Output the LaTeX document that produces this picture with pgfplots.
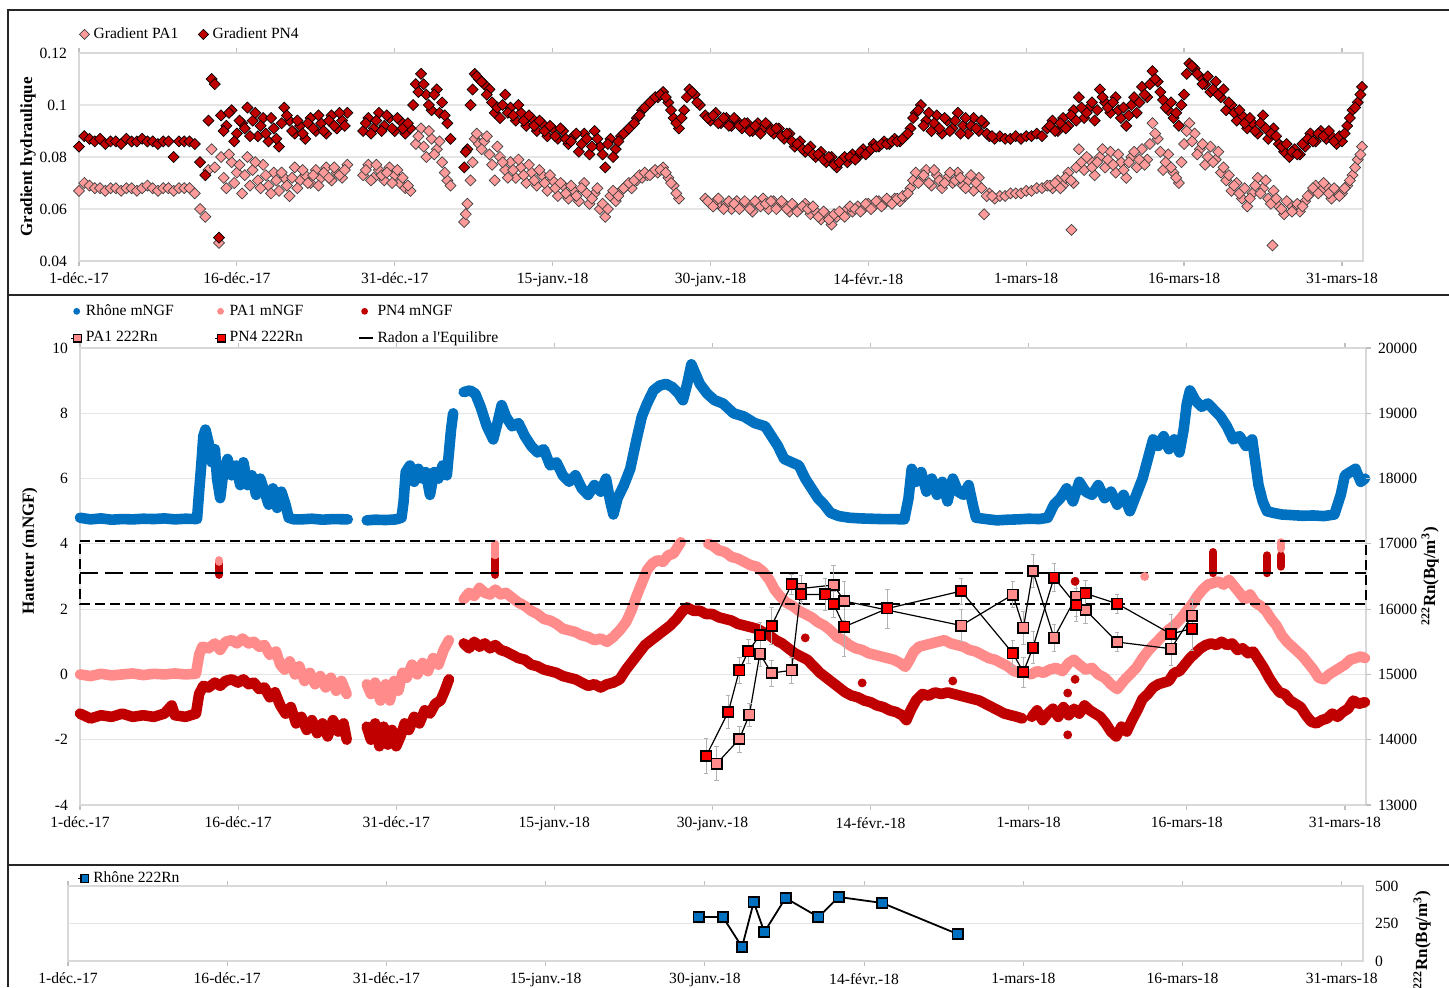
\documentclass[border=0pt]{standalone}
\usepackage{fontspec}
\setmainfont{Liberation Serif}
\usepackage{pgfplots}
\usepackage{pgfplotstable}
\pgfplotsset{compat=1.18}

\definecolor{rhone}{HTML}{0070C0}
\definecolor{paone}{HTML}{FF8B8B}
\definecolor{pnfour}{HTML}{C00000}
\definecolor{dpink}{HTML}{FF9A9A}
\definecolor{rnred}{HTML}{FF0000}
\definecolor{rnpink}{HTML}{FF8B8B}
\definecolor{plotframe}{HTML}{D9D9D9}

\pgfplotsset{
  panel/.style={
    scale only axis, anchor=south west,
    xmin=0, xmax=122,
    xtick={0,15,...,120},
    xticklabels={1-déc.-17,16-déc.-17,31-déc.-17,15-janv.-18,30-janv.-18,14-févr.-18,1-mars-18,16-mars-18,31-mars-18},
    tick align=outside, major tick length=2.5pt,
    xtick style={gray!50, line width=0.6pt},
    ytick style={draw=none},
    axis line style={plotframe, line width=0.8pt},
    ymajorgrids, grid style={gray!20, line width=0.6pt},
    font=\fontsize{7.8}{9}\selectfont,
    /pgf/number format/assume math mode=true,
    scaled y ticks=false,
    clip=false,
    legend cell align=left,
  },
  band/.style={line width=5.3pt, line join=round, line cap=round},
  gpa/.style={only marks, mark=square*, mark size=1.95pt, mark options={rotate=45, fill=dpink, draw=black!75, line width=0.35pt}},
  gpn/.style={only marks, mark=square*, mark size=1.95pt, mark options={rotate=45, fill=pnfour, draw=black, line width=0.35pt}},
}

% radon 222Rn in wells (Bq/m3), with error
\pgfplotstableread{
d rn e
59.4 13750 270
61.5 14424 250
62.55 15063 200
63.4 15354 180
64.5 15600 200
65.6 15741 280
67.5 16380 150
68.4 16225 150
70.7 16225 250
71.5 16078 200
72.5 15730 450
76.6 16010 300
83.6 16277 200
88.5 15323 200
89.5 15037 230
90.4 15412 250
92.4 16484 215
94.5 16063 250
95.4 16240 200
98.4 16083 150
103.5 15620 300
105.5 15703 330
}\rnpnfour

\pgfplotstableread{
d rn e
60.4 13633 260
62.55 14010 200
63.5 14382 180
64.5 15317 200
65.6 15021 200
67.5 15063 200
68.4 16316 200
71.5 16370 300
72.5 16124 300
83.6 15749 250
88.5 16224 200
89.5 15714 250
90.4 16583 255
92.4 15560 200
94.5 16190 300
95.4 15986 200
98.4 15496 150
103.5 15394 250
105.5 15899 250
}\rnpaone

\pgfplotstableread{
d rn
0 17040
122 17040
122 16080
0 16080
0 17040
}\eqbox

\pgfplotstableread{
d rn
0 16560
122 16560
}\eqmid

\begin{document}
\begin{tikzpicture}
\useasboundingbox (0,0) rectangle (724.5pt,493.5pt);

% ---------------- top panel: hydraulic gradient
\begin{axis}[panel, at={(39.5pt,363pt)}, width=642pt, height=104pt,
  ymin=0.04, ymax=0.12, ytick={0.04,0.06,0.08,0.1,0.12},
  yticklabels={0.04,0.06,0.08,0.1,0.12},
  ylabel={\textbf{Gradient hydraulique}},
  ylabel style={at={(axis description cs:-0.0397,0.5)}, anchor=center, font=\fontsize{8.5}{10}\selectfont},
  legend columns=2,
  legend style={draw=none, fill=none, inner sep=0pt, at={(axis description cs:0.0,1.144)}, anchor=north west,
    /tikz/every even column/.append style={column sep=8pt}},
]
\addplot[gpa, legend image code/.code={\draw[only marks, mark=square*, mark size=1.8pt, mark options={rotate=45, fill=dpink, draw=black!75, line width=0.35pt}] plot coordinates {(2.5pt,0pt)};}] coordinates {
(0,0.067)(0.5,0.070)(1,0.069)(1.5,0.068)(2,0.068)(2.5,0.067)(3,0.068)(3.5,0.068)(4,0.067)(4.5,0.068)(5,0.068)(5.5,0.067)(6,0.068)(6.5,0.069)(7,0.068)(7.5,0.067)(8,0.068)(8.5,0.068)(9,0.067)(9.5,0.068)(10,0.068)(10.5,0.068)(11,0.066)(11.5,0.060)(12,0.057)(12.3,0.075)(12.6,0.083)(12.9,0.076)(13.3,0.047)(13.5,0.080)(14,0.068)(14.5,0.078)(15,0.074)(15.5,0.066)(16,0.080)(16.5,0.075)(17,0.071)(17.5,0.077)(18,0.069)(18.5,0.074)(19,0.067)(19.5,0.072)(20,0.065)(20.5,0.076)(21,0.071)(21.5,0.073)(22,0.070)(22.5,0.075)(23,0.072)(23.5,0.076)(24,0.071)(24.5,0.074)(25,0.072)(25.5,0.077)
(27,0.073)(27.5,0.077)(28,0.072)(28.5,0.075)(29,0.071)(29.5,0.076)(30,0.073)(30.5,0.070)(31,0.068)(31.5,0.067)(32,0.085)(32.5,0.091)(33,0.080)(33.5,0.087)(34,0.083)(34.5,0.078)(35,0.071)(35.3,0.069)
(36.6,0.055)(36.9,0.062)(37.2,0.071)(37.6,0.087)(38,0.085)(38.5,0.086)(39,0.081)(39.5,0.071)(40,0.080)(40.5,0.075)(41,0.078)(41.5,0.072)(42,0.076)(42.5,0.070)(43,0.074)(43.5,0.069)(44,0.073)(44.5,0.067)(45,0.071)(45.5,0.065)(46,0.069)(46.5,0.064)(47,0.067)(47.5,0.063)(48,0.070)(48.5,0.062)(49,0.066)(49.5,0.060)(50,0.057)(50.5,0.065)(51,0.063)(51.5,0.067)(52,0.069)(52.5,0.068)(53,0.071)(53.5,0.072)(54,0.073)(54.5,0.074)(55,0.074)(55.5,0.076)(56,0.072)(56.5,0.069)(57,0.064)
(59.5,0.064)(60,0.062)(60.5,0.063)(61,0.061)(61.5,0.062)(62,0.060)(62.5,0.063)(63,0.061)(63.5,0.062)(64,0.059)(64.5,0.062)(65,0.064)(65.5,0.060)(66,0.063)(66.5,0.061)(67,0.062)(67.5,0.059)(68,0.061)(68.5,0.060)(69,0.062)(69.5,0.058)(70,0.059)(70.5,0.056)(71,0.058)(71.5,0.054)(72,0.057)(72.5,0.058)(73,0.060)(73.5,0.059)(74,0.061)(74.5,0.060)(75,0.062)(75.5,0.061)(76,0.063)(76.5,0.062)(77,0.063)(77.5,0.064)(78,0.063)(78.5,0.065)(79,0.068)(79.5,0.074)(80,0.071)(80.5,0.075)(81,0.069)(81.5,0.073)(82,0.068)(82.5,0.072)(83,0.070)(83.5,0.074)(84,0.069)(84.5,0.071)(85,0.067)(85.5,0.072)(86,0.058)(86.5,0.066)(87,0.064)(87.5,0.065)(88,0.065)(88.5,0.066)(89,0.066)(89.5,0.066)(90,0.067)(90.5,0.067)(91,0.068)(91.5,0.068)(92,0.069)(92.5,0.068)(93,0.071)(93.5,0.069)(94,0.074)(94.3,0.052)(94.5,0.070)(95,0.083)(95.5,0.075)(96,0.079)(96.5,0.073)(97,0.080)(97.5,0.076)(98,0.082)(98.5,0.074)(99,0.078)(99.5,0.072)(100,0.080)(100.5,0.076)(101,0.083)(101.5,0.079)(102,0.093)(102.5,0.087)(103,0.075)(103.5,0.081)(104,0.074)(104.5,0.070)(105,0.085)(105.5,0.093)(106,0.089)(106.5,0.083)(107,0.077)(107.5,0.084)(108,0.079)(108.5,0.074)(109,0.071)(109.5,0.067)(110,0.070)(110.5,0.064)(111,0.061)(111.5,0.066)(112,0.072)(112.5,0.068)(113,0.064)(113.4,0.046)(113.5,0.067)(114,0.061)(114.5,0.058)(115,0.062)(115.5,0.060)(116,0.059)(116.5,0.063)(117,0.066)(117.5,0.069)(118,0.067)(118.5,0.069)(119,0.064)(119.5,0.067)(120,0.066)(120.5,0.069)(121,0.073)(121.5,0.079)(121.9,0.084)
};
\addlegendentry{Gradient PA1}
\addplot[gpa, forget plot] coordinates {
(13.75,0.072)(14.25,0.081)(14.75,0.070)(15.25,0.077)(15.75,0.073)(16.25,0.069)(16.75,0.078)(17.25,0.068)(17.75,0.073)(18.25,0.066)(18.75,0.071)(19.25,0.074)(19.75,0.069)(20.25,0.072)(20.75,0.068)(21.25,0.075)(21.75,0.070)(22.25,0.073)(22.75,0.069)(23.25,0.074)(23.75,0.072)(24.25,0.076)(24.75,0.073)(25.25,0.075)
(27.25,0.075)(27.75,0.071)(28.25,0.077)(28.75,0.073)(29.25,0.074)(29.75,0.070)(30.25,0.075)(30.75,0.072)(31.25,0.069)(32.25,0.088)(32.75,0.084)(33.25,0.090)(33.75,0.081)(34.25,0.086)(34.75,0.074)
(36.75,0.058)(37.4,0.078)(37.8,0.089)(38.25,0.083)(38.75,0.088)(39.25,0.077)(39.75,0.084)(40.25,0.078)(40.75,0.072)(41.25,0.075)(41.75,0.079)(42.25,0.073)(42.75,0.077)(43.25,0.071)(43.75,0.075)(44.25,0.070)(44.75,0.073)(45.25,0.068)(45.75,0.070)(46.25,0.066)(46.75,0.069)(47.25,0.065)(47.75,0.068)(48.25,0.066)(48.75,0.064)(49.25,0.068)(49.75,0.062)(50.25,0.060)(50.75,0.067)(51.25,0.065)(51.75,0.068)(52.25,0.070)(52.75,0.071)(53.25,0.073)(53.75,0.074)(54.25,0.073)(54.75,0.075)(55.25,0.075)(55.75,0.074)(56.25,0.070)(56.75,0.066)
(59.75,0.063)(60.25,0.061)(60.75,0.064)(61.25,0.060)(61.75,0.063)(62.25,0.062)(62.75,0.060)(63.25,0.063)(63.75,0.060)(64.25,0.063)(64.75,0.061)(65.25,0.062)(65.75,0.063)(66.25,0.060)(66.75,0.063)(67.25,0.060)(67.75,0.062)(68.25,0.059)(68.75,0.061)(69.25,0.060)(69.75,0.061)(70.25,0.057)(70.75,0.059)(71.25,0.056)(71.75,0.058)(72.25,0.059)(72.75,0.057)(73.25,0.061)(73.75,0.060)(74.25,0.059)(74.75,0.062)(75.25,0.060)(75.75,0.063)(76.25,0.061)(76.75,0.064)(77.25,0.062)(77.75,0.064)(78.25,0.065)(78.75,0.066)(79.25,0.071)(79.75,0.070)(80.25,0.073)(80.75,0.070)(81.25,0.075)(81.75,0.071)(82.25,0.070)(82.75,0.074)(83.25,0.071)(83.75,0.072)(84.25,0.068)(84.75,0.073)(85.25,0.070)(85.75,0.068)(86.25,0.065)(86.75,0.065)
(92.25,0.069)(92.75,0.070)(93.25,0.068)(93.75,0.072)(94.25,0.071)(94.75,0.076)(95.25,0.078)(95.75,0.080)(96.25,0.076)(96.75,0.078)(97.25,0.083)(97.75,0.079)(98.25,0.077)(98.75,0.081)(99.25,0.075)(99.75,0.078)(100.25,0.082)(100.75,0.079)(101.25,0.077)(101.75,0.085)(102.25,0.089)(102.75,0.082)(103.25,0.078)(103.75,0.076)(104.25,0.072)(104.75,0.078)(105.25,0.090)(105.75,0.086)(106.25,0.081)(106.75,0.085)(107.25,0.080)(107.75,0.078)(108.25,0.082)(108.75,0.076)(109.25,0.073)(109.75,0.069)(110.25,0.066)(110.75,0.068)(111.25,0.064)(111.75,0.069)(112.25,0.066)(112.75,0.071)(113.25,0.062)(113.75,0.064)(114.25,0.060)(114.75,0.063)(115.25,0.059)(115.75,0.062)(116.25,0.061)(116.75,0.065)(117.25,0.068)(117.75,0.066)(118.25,0.070)(118.75,0.066)(119.25,0.068)(119.75,0.065)(120.25,0.068)(120.75,0.071)(121.25,0.076)(121.75,0.081)
};
\addplot[gpn, legend image code/.code={\draw[only marks, mark=square*, mark size=1.8pt, mark options={rotate=45, fill=pnfour, draw=black, line width=0.35pt}] plot coordinates {(2.5pt,0pt)};}] coordinates {
(0,0.084)(0.5,0.088)(1,0.087)(1.5,0.086)(2,0.087)(2.5,0.085)(3,0.086)(3.5,0.086)(4,0.085)(4.5,0.087)(5,0.086)(5.5,0.086)(6,0.087)(6.5,0.086)(7,0.086)(7.5,0.085)(8,0.086)(8.5,0.086)(9,0.080)(9.5,0.086)(10,0.086)(10.5,0.086)(11,0.085)(11.5,0.078)(12,0.073)(12.3,0.094)(12.6,0.110)(12.9,0.108)(13.3,0.049)(13.5,0.096)(14,0.092)(14.5,0.098)(15,0.089)(15.5,0.093)(16,0.099)(16.5,0.094)(17,0.088)(17.5,0.095)(18,0.086)(18.5,0.091)(19,0.084)(19.5,0.099)(20,0.094)(20.5,0.089)(21,0.092)(21.5,0.087)(22,0.095)(22.5,0.090)(23,0.093)(23.5,0.089)(24,0.096)(24.5,0.091)(25,0.094)(25.5,0.097)
(27,0.090)(27.5,0.095)(28,0.091)(28.5,0.097)(29,0.092)(29.5,0.095)(30,0.090)(30.5,0.094)(31,0.089)(31.5,0.091)(32,0.108)(32.5,0.112)(33,0.104)(33.5,0.098)(34,0.106)(34.5,0.101)(35,0.093)(35.3,0.087)
(36.6,0.076)(36.9,0.083)(37.2,0.100)(37.6,0.112)(38,0.110)(38.5,0.108)(39,0.106)(39.5,0.097)(40,0.095)(40.5,0.104)(41,0.099)(41.5,0.094)(42,0.097)(42.5,0.092)(43,0.095)(43.5,0.090)(44,0.093)(44.5,0.088)(45,0.091)(45.5,0.087)(46,0.090)(46.5,0.085)(47,0.088)(47.5,0.082)(48,0.089)(48.5,0.081)(49,0.090)(49.5,0.084)(50,0.076)(50.5,0.087)(51,0.083)(51.5,0.088)(52,0.090)(52.5,0.092)(53,0.095)(53.5,0.098)(54,0.100)(54.5,0.102)(55,0.103)(55.5,0.105)(56,0.101)(56.5,0.095)(57,0.091)(57.5,0.098)(58,0.106)(58.5,0.104)(59,0.100)
(59.5,0.096)(60,0.094)(60.5,0.097)(61,0.093)(61.5,0.095)(62,0.092)(62.5,0.094)(63,0.091)(63.5,0.093)(64,0.090)(64.5,0.093)(65,0.091)(65.5,0.092)(66,0.089)(66.5,0.091)(67,0.087)(67.5,0.089)(68,0.084)(68.5,0.086)(69,0.082)(69.5,0.084)(70,0.080)(70.5,0.082)(71,0.078)(71.5,0.080)(72,0.076)(72.5,0.079)(73,0.078)(73.5,0.081)(74,0.080)(74.5,0.083)(75,0.082)(75.5,0.085)(76,0.084)(76.5,0.086)(77,0.085)(77.5,0.087)(78,0.086)(78.5,0.088)(79,0.091)(79.5,0.097)(80,0.100)(80.5,0.094)(81,0.090)(81.5,0.096)(82,0.089)(82.5,0.094)(83,0.091)(83.5,0.097)(84,0.092)(84.5,0.089)(85,0.095)(85.5,0.090)(86,0.093)(86.5,0.088)(87,0.087)(87.5,0.088)(88,0.087)(88.5,0.087)(89,0.088)(89.5,0.087)(90,0.088)(90.5,0.088)(91,0.089)(91.5,0.088)(92,0.091)(92.5,0.094)(93,0.090)(93.5,0.095)(94,0.092)(94.5,0.098)(95,0.103)(95.5,0.095)(96,0.099)(96.5,0.094)(97,0.106)(97.5,0.101)(98,0.097)(98.5,0.103)(99,0.095)(99.5,0.092)(100,0.100)(100.5,0.097)(101,0.107)(101.5,0.103)(102,0.113)(102.5,0.109)(103,0.102)(103.5,0.098)(104,0.095)(104.5,0.092)(105,0.104)(105.5,0.116)(106,0.114)(106.5,0.111)(107,0.108)(107.5,0.105)(108,0.109)(108.5,0.103)(109,0.098)(109.5,0.100)(110,0.094)(110.5,0.096)(111,0.091)(111.5,0.093)(112,0.089)(112.5,0.096)(113,0.087)(113.5,0.091)(114,0.085)(114.5,0.082)(115,0.080)(115.5,0.083)(116,0.081)(116.5,0.084)(117,0.089)(117.5,0.086)(118,0.090)(118.5,0.087)(119,0.088)(119.5,0.085)(120,0.086)(120.5,0.092)(121,0.098)(121.5,0.101)(121.9,0.107)
};
\addlegendentry{Gradient PN4}
\addplot[gpn, forget plot] coordinates {
(13.75,0.090)(14.25,0.097)(14.75,0.086)(15.25,0.094)(15.75,0.091)(16.25,0.088)(16.75,0.097)(17.25,0.092)(17.75,0.089)(18.25,0.095)(18.75,0.087)(19.25,0.093)(19.75,0.096)(20.25,0.090)(20.75,0.094)(21.25,0.089)(21.75,0.093)(22.25,0.091)(22.75,0.096)(23.25,0.090)(23.75,0.094)(24.25,0.092)(24.75,0.097)(25.25,0.092)
(27.25,0.093)(27.75,0.089)(28.25,0.094)(28.75,0.090)(29.25,0.096)(29.75,0.091)(30.25,0.095)(30.75,0.091)(31.25,0.093)(31.75,0.100)(32.25,0.105)(32.75,0.108)(33.25,0.100)(33.75,0.104)(34.25,0.097)(34.75,0.096)
(36.75,0.082)(37.4,0.106)(37.8,0.111)(38.25,0.109)(38.75,0.104)(39.25,0.101)(39.75,0.099)(40.25,0.100)(40.75,0.097)(41.25,0.096)(41.75,0.100)(42.25,0.094)(42.75,0.096)(43.25,0.092)(43.75,0.094)(44.25,0.090)(44.75,0.092)(45.25,0.088)(45.75,0.091)(46.25,0.087)(46.75,0.086)(47.25,0.089)(47.75,0.085)(48.25,0.087)(48.75,0.084)(49.25,0.087)(49.75,0.081)(50.25,0.085)(50.75,0.080)(51.25,0.086)(51.75,0.089)(52.25,0.091)(52.75,0.093)(53.25,0.096)(53.75,0.099)(54.25,0.101)(54.75,0.103)(55.25,0.104)(55.75,0.103)(56.25,0.098)(56.75,0.093)(57.25,0.095)(57.75,0.103)(58.25,0.105)(58.75,0.101)
(59.75,0.095)(60.25,0.096)(60.75,0.093)(61.25,0.095)(61.75,0.092)(62.25,0.095)(62.75,0.092)(63.25,0.093)(63.75,0.090)(64.25,0.092)(64.75,0.089)(65.25,0.093)(65.75,0.090)(66.25,0.091)(66.75,0.088)(67.25,0.089)(67.75,0.086)(68.25,0.085)(68.75,0.083)(69.25,0.083)(69.75,0.081)(70.25,0.081)(70.75,0.079)(71.25,0.080)(71.75,0.077)(72.25,0.078)(72.75,0.080)(73.25,0.080)(73.75,0.079)(74.25,0.082)(74.75,0.081)(75.25,0.083)(75.75,0.084)(76.25,0.085)(76.75,0.085)(77.25,0.086)(77.75,0.086)(78.25,0.087)(78.75,0.089)(79.25,0.095)(79.75,0.098)(80.25,0.092)(80.75,0.097)(81.25,0.093)(81.75,0.091)(82.25,0.095)(82.75,0.090)(83.25,0.094)(83.75,0.089)(84.25,0.095)(84.75,0.092)(85.25,0.091)(85.75,0.094)(86.25,0.089)(86.75,0.088)
(92.25,0.092)(92.75,0.090)(93.25,0.093)(93.75,0.091)(94.25,0.096)(94.75,0.094)(95.25,0.099)(95.75,0.097)(96.25,0.101)(96.75,0.098)(97.25,0.103)(97.75,0.099)(98.25,0.101)(98.75,0.098)(99.25,0.099)(99.75,0.096)(100.25,0.103)(100.75,0.101)(101.25,0.104)(101.75,0.108)(102.25,0.110)(102.75,0.105)(103.25,0.099)(103.75,0.101)(104.25,0.097)(104.75,0.100)(105.25,0.112)(105.75,0.115)(106.25,0.112)(106.75,0.108)(107.25,0.111)(107.75,0.106)(108.25,0.104)(108.75,0.106)(109.25,0.101)(109.75,0.097)(110.25,0.098)(110.75,0.093)(111.25,0.095)(111.75,0.090)(112.25,0.093)(112.75,0.091)(113.25,0.089)(113.75,0.088)(114.25,0.084)(114.75,0.085)(115.25,0.082)(115.75,0.081)(116.25,0.085)(116.75,0.087)(117.25,0.086)(117.75,0.089)(118.25,0.088)(118.75,0.090)(119.25,0.086)(119.75,0.088)(120.25,0.089)(120.75,0.095)(121.25,0.099)(121.75,0.104)
};
\end{axis}

% ---------------- middle panel: water levels and radon
\begin{axis}[panel, at={(40pt,91pt)}, width=643pt, height=228.5pt,
  ymin=-4, ymax=10, ytick={-4,-2,...,10}, yticklabels={-4,-2,0,2,4,6,8,10},
  unbounded coords=jump,
  ylabel={\textbf{Hauteur (mNGF)}},
  ylabel style={at={(axis description cs:-0.039,0.556)}, anchor=center, font=\fontsize{8.5}{10}\selectfont},
  legend columns=3,
  legend style={draw=none, fill=none, inner sep=0pt, row sep=2.5pt, at={(axis description cs:-0.008,1.105)}, anchor=north west},
]
\addplot[rhone, band, legend image code/.code={\path[fill=rhone, draw=none, line width=0pt] (3pt,0pt) circle (1.7pt);}] coordinates {
(0,4.8)(1,4.75)(2,4.78)(3,4.74)(4,4.76)(5,4.75)(6,4.77)(7,4.76)(8,4.78)(9,4.75)(10,4.77)(11.1,4.76)
(11.3,5.6)(11.5,6.4)(11.7,7.3)(11.9,7.5)(12.2,7.1)(12.5,6.5)(12.8,6.9)(13.0,6.0)(13.3,5.4)(13.6,6.2)(14.0,6.6)(14.4,6.1)(14.8,6.4)(15.2,5.8)(15.5,6.5)(15.9,5.8)(16.3,6.1)(16.7,5.5)(17.1,6.0)(17.5,5.6)(17.9,5.2)(18.3,5.7)(18.7,5.1)(19.1,5.6)(19.5,5.2)(19.8,4.8)(20.3,4.75)(21,4.75)(22,4.77)(23,4.74)(24,4.76)(25.4,4.75)
(26,nan)
(27.2,4.72)(28,4.74)(29,4.73)(30,4.75)(30.5,4.8)(30.7,5.3)(30.9,6.2)(31.3,6.4)(31.7,5.9)(32.1,6.3)(32.5,6.0)(32.8,6.2)(33.2,5.5)(33.6,6.2)(34.0,6.0)(34.4,6.4)(34.8,6.1)(35.0,6.8)(35.2,7.5)(35.4,8.0)
(35.8,nan)
(36.4,8.65)(37.0,8.7)(37.5,8.6)(38.0,8.2)(38.6,7.6)(39.2,7.2)(39.6,7.7)(40.0,8.25)(40.4,7.9)(41,7.6)(41.6,7.7)(42.2,7.3)(42.8,7.0)(43.4,6.8)(44,6.9)(44.6,6.4)(45.2,6.5)(45.8,6.1)(46.4,5.9)(47,6.1)(47.6,5.7)(48.2,5.5)(48.8,5.8)(49.4,5.6)(49.9,6.0)(50.3,5.3)(50.6,4.9)(51,5.4)(51.6,5.8)(52.2,6.3)(52.8,7.2)(53.3,7.9)(53.8,8.3)(54.4,8.7)(55,8.85)(55.6,8.9)(56.2,8.8)(56.8,8.6)(57.2,8.4)(57.6,8.9)(58,9.5)(58.4,9.2)(58.8,8.9)(59.5,8.6)(60.2,8.4)(61,8.3)(62,8.0)(63,7.9)(64,7.7)(65,7.6)(65.6,7.3)(66.2,7.0)(66.8,6.6)(67.5,6.5)(68.2,6.4)(68.8,6.0)(69.4,5.7)(70,5.4)(70.6,5.2)(71.2,4.95)(72,4.85)(73,4.8)(74,4.78)(75,4.77)(76,4.76)(77,4.76)(78.2,4.75)
(78.6,5.4)(78.9,6.3)(79.3,5.9)(79.8,6.2)(80.3,5.6)(80.8,6.0)(81.3,5.5)(81.8,5.9)(82.3,5.3)(82.8,6.0)(83.3,5.6)(83.8,5.5)(84.3,5.8)(84.7,5.2)(85,4.8)(86.2,4.75)(87,4.72)(88,4.74)(89,4.75)(90,4.77)(91,4.76)(91.8,4.8)(92.4,5.2)(93,5.4)(93.6,5.7)(94.2,5.3)(94.8,5.9)(95.4,5.6)(96,5.5)(96.6,5.8)(97.2,5.4)(97.8,5.6)(98.4,5.2)(99,5.5)(99.6,5.0)(100.2,5.5)(100.8,6.0)(101.3,6.6)(101.8,7.2)(102.3,7.0)(102.8,7.3)(103.3,6.9)(103.8,7.2)(104.3,6.8)(104.7,7.5)(105,8.3)(105.3,8.7)(105.8,8.4)(106.4,8.2)(107,8.3)(107.6,8.1)(108.2,7.9)(108.8,7.6)(109.4,7.2)(110,7.3)(110.6,7.0)(111.2,7.2)(111.5,6.5)(111.8,5.8)(112.2,5.3)(112.6,5.0)(113.2,4.95)(114,4.9)(115,4.88)(116,4.86)(117,4.87)(118,4.85)(119,4.9)(119.6,5.5)(120,6.1)(120.5,6.2)(121,6.3)(121.5,5.9)(121.9,6.0)
};
\addlegendentry{\makebox[62pt][l]{Rhône mNGF}}
\addplot[paone, band, legend image code/.code={\path[fill=paone, draw=none, line width=0pt] (3pt,0pt) circle (1.7pt);}] coordinates {
(0,0.0)(1,-0.05)(2,0.02)(3,-0.03)(4,0.0)(5,0.03)(6,-0.02)(7,0.02)(8,0.0)(9,0.03)(10,0.0)(11,0.02)
(11.3,0.6)(11.6,0.85)(12.2,0.8)(12.8,0.95)(13.3,0.75)(13.8,1.0)(14.4,1.05)(14.9,0.95)(15.4,1.1)(16.0,0.95)(16.5,1.0)(17.0,0.85)(17.5,0.9)(18.0,0.6)(18.6,0.7)(19.0,0.3)(19.4,0.15)(19.9,0.4)(20.4,0.0)(20.8,0.25)(21.3,-0.2)(21.8,0.05)(22.3,-0.3)(22.8,-0.05)(23.3,-0.4)(23.8,-0.1)(24.3,-0.5)(24.8,-0.2)(25.3,-0.6)
(26,nan)
(27.2,-0.3)(27.6,-0.6)(28.0,-0.25)(28.5,-0.8)(29.0,-0.3)(29.4,-0.8)(29.8,-0.2)(30.2,-0.5)(30.6,0.05)(31.0,-0.1)(31.5,0.3)(32.0,0.0)(32.5,0.35)(33.0,0.1)(33.5,0.5)(34.0,0.3)(34.5,0.75)(35.0,1.05)
(35.7,nan)
(36.4,2.3)(36.9,2.5)(37.4,2.4)(37.9,2.65)(38.4,2.5)(38.9,2.45)(39.4,2.6)(39.9,2.45)(40.4,2.5)(41.0,2.35)(41.6,2.2)(42.2,2.1)(42.8,1.95)(43.4,1.85)(44.0,1.7)(44.6,1.65)(45.2,1.55)(45.8,1.4)(46.4,1.35)(47.0,1.3)(47.6,1.2)(48.2,1.15)(48.8,1.05)(49.4,1.1)(50.0,1.0)(50.6,1.15)(51.2,1.35)(51.8,1.6)(52.3,1.95)(52.8,2.4)(53.3,2.8)(53.8,3.2)(54.3,3.4)(54.8,3.5)(55.3,3.45)(55.8,3.65)(56.3,3.7)(56.7,3.9)(57.0,4.05)
(58,nan)
(59.6,4.0)(60.0,3.95)(60.6,3.8)(61.2,3.75)(61.8,3.6)(62.4,3.55)(63.0,3.45)(63.6,3.35)(64.2,3.3)(64.8,3.15)(65.4,2.9)(65.9,2.6)(66.4,2.4)(67.0,2.2)(67.6,2.1)(68.2,1.95)(68.8,1.85)(69.4,1.75)(70.0,1.6)(70.6,1.5)(71.2,1.35)(71.8,1.15)(72.4,1.05)(73.0,0.9)(73.6,0.8)(74.2,0.75)(74.8,0.65)(75.4,0.6)(76.0,0.55)(76.6,0.5)(77.2,0.45)(77.8,0.35)(78.3,0.23)(78.7,0.45)(79.1,0.7)(79.6,0.85)(80.2,0.9)(80.8,0.95)(81.4,1.0)(82.0,1.05)(82.6,0.95)(83.2,0.9)(83.8,0.85)(84.4,0.75)(85.0,0.7)(85.6,0.6)(86.2,0.5)(86.8,0.45)(87.4,0.35)(88.0,0.25)(88.6,0.1)(89.2,0.05)
(89.6,nan)
(90.2,0.0)(90.8,0.1)(91.4,0.05)(92.0,0.15)(92.6,0.2)(93.2,0.1)(93.8,0.35)(94.3,0.45)(94.8,0.3)(95.4,0.15)(96.0,0.2)(96.6,0.0)(97.2,-0.1)(97.8,-0.3)(98.4,-0.45)(99.0,-0.2)(99.6,0.0)(100.2,0.2)(100.8,0.5)(101.4,0.75)(102.0,0.95)(102.6,1.15)(103.2,1.35)(103.8,1.5)(104.4,1.7)(105.0,1.95)(105.5,2.15)(106.0,2.4)(106.5,2.6)(107.0,2.75)(107.5,2.8)(108.0,2.85)(108.5,2.75)(109.0,2.9)(109.5,2.7)(110.0,2.5)(110.5,2.3)(111.0,2.45)(111.5,2.2)(112.0,2.1)(112.5,1.95)(113.0,1.7)(113.5,1.5)(114.0,1.2)(114.5,1.0)(115.0,0.85)(115.5,0.7)(116.0,0.55)(116.5,0.35)(117.0,0.15)(117.5,-0.1)(118.0,-0.15)(118.5,0.0)(119.0,0.1)(119.5,0.2)(120.0,0.3)(120.5,0.45)(121.0,0.5)(121.5,0.55)(121.9,0.5)
};
\addlegendentry{\makebox[62pt][l]{PA1 mNGF}}
\addplot[pnfour, band, legend image code/.code={\path[fill=pnfour, draw=none, line width=0pt] (3pt,0pt) circle (1.7pt);}] coordinates {
(0,-1.2)(1,-1.35)(2,-1.25)(3,-1.3)(4,-1.2)(5,-1.3)(6,-1.25)(7,-1.3)(8,-1.2)(8.7,-0.95)(9,-1.25)(10,-1.3)(11,-1.2)
(11.3,-0.6)(11.7,-0.35)(12.2,-0.4)(12.8,-0.25)(13.3,-0.35)(13.8,-0.2)(14.4,-0.15)(15.0,-0.25)(15.5,-0.15)(16.0,-0.3)(16.5,-0.25)(17.0,-0.45)(17.5,-0.4)(18.0,-0.7)(18.5,-0.55)(19.0,-0.95)(19.5,-1.2)(20.0,-1.0)(20.5,-1.5)(21.0,-1.3)(21.5,-1.7)(22.0,-1.4)(22.5,-1.8)(23.0,-1.5)(23.5,-1.9)(24.0,-1.4)(24.5,-1.75)(25.0,-1.5)(25.3,-2.0)
(26,nan)
(27.2,-1.6)(27.6,-2.0)(28.0,-1.5)(28.4,-2.2)(28.8,-1.6)(29.2,-2.15)(29.6,-1.7)(30.0,-2.2)(30.4,-1.9)(30.8,-1.5)(31.2,-1.7)(31.7,-1.3)(32.2,-1.5)(32.7,-1.1)(33.2,-1.2)(33.7,-0.9)(34.2,-0.8)(34.6,-0.5)(35.0,-0.15)
(35.7,nan)
(36.4,0.95)(36.9,0.8)(37.4,1.0)(37.9,0.85)(38.4,0.95)(38.9,0.8)(39.4,0.9)(39.9,0.75)(40.4,0.7)(41.0,0.6)(41.6,0.5)(42.2,0.45)(42.8,0.3)(43.4,0.25)(44.0,0.15)(44.6,0.1)(45.2,0.05)(45.8,-0.05)(46.4,-0.1)(47.0,-0.15)(47.6,-0.25)(48.2,-0.35)(48.8,-0.3)(49.4,-0.4)(50.0,-0.3)(50.6,-0.25)(51.2,-0.15)(51.8,0.15)(52.4,0.4)(53.0,0.65)(53.6,0.9)(54.2,1.05)(54.8,1.2)(55.4,1.35)(56.0,1.5)(56.6,1.7)(57.2,1.95)(57.6,2.05)(58.2,1.95)(58.8,1.95)(59.4,1.85)(60.0,1.85)(60.6,1.75)(61.2,1.7)(61.8,1.65)(62.4,1.55)(63.0,1.5)(63.6,1.45)(64.2,1.4)(64.8,1.3)(65.4,1.2)(66.0,1.05)(66.6,0.95)(67.2,0.8)(67.8,0.65)(68.4,0.55)(69.0,0.45)(69.6,0.25)(70.2,0.05)(70.8,-0.1)(71.4,-0.25)(72.0,-0.4)(72.6,-0.55)(73.2,-0.65)(73.8,-0.7)(74.4,-0.8)(75.0,-0.85)(75.6,-0.95)(76.2,-1.0)(76.8,-1.1)(77.4,-1.15)(78.0,-1.25)(78.4,-1.4)(78.8,-1.1)(79.3,-0.8)(79.9,-0.6)(80.5,-0.65)(81.1,-0.55)(81.7,-0.6)(82.3,-0.55)(82.9,-0.6)(83.5,-0.65)(84.1,-0.7)(84.7,-0.75)(85.3,-0.8)(85.9,-0.9)(86.5,-1.0)(87.1,-1.1)(87.7,-1.2)(88.3,-1.25)(88.9,-1.3)(89.4,-1.35)
(89.7,nan)
(90.3,-1.3)(90.8,-1.1)(91.3,-1.4)(91.8,-1.2)(92.3,-1.05)(92.8,-1.3)(93.3,-1.0)(93.8,-1.25)(94.3,-1.05)(94.8,-1.2)(95.3,-0.95)(95.8,-1.1)(96.3,-1.2)(96.8,-1.3)(97.3,-1.5)(97.8,-1.75)(98.3,-1.9)(98.8,-1.6)(99.3,-1.75)(99.8,-1.4)(100.3,-1.1)(100.8,-0.75)(101.3,-0.6)(101.8,-0.4)(102.3,-0.3)(102.8,-0.25)(103.3,-0.2)(103.8,0.05)(104.3,0.1)(104.8,0.3)(105.3,0.5)(105.8,0.65)(106.3,0.8)(106.8,0.9)(107.3,0.95)(107.8,0.9)(108.3,1.0)(108.8,0.9)(109.3,0.95)(109.8,0.75)(110.3,0.8)(110.8,0.65)(111.3,0.7)(111.8,0.45)(112.3,0.2)(112.8,-0.1)(113.3,-0.35)(113.8,-0.55)(114.3,-0.6)(114.8,-0.8)(115.3,-0.9)(115.8,-1.0)(116.3,-1.25)(116.8,-1.45)(117.3,-1.5)(117.8,-1.4)(118.3,-1.35)(118.8,-1.2)(119.3,-1.3)(119.8,-1.15)(120.3,-1.05)(120.8,-0.8)(121.3,-0.9)(121.9,-0.85)
};
\addlegendentry{\makebox[62pt][l]{PN4 mNGF}}
% isolated readings
\addplot[pnfour, line width=4pt, line cap=round, forget plot] coordinates {
(13.2,3.05)(13.2,3.4)(13.3,nan)(39.4,3.05)(39.4,3.55)(39.5,nan)(107.5,3.1)(107.5,3.75)(107.6,nan)(112.6,3.1)(112.6,3.65)(112.7,nan)(113.9,3.3)(113.9,3.65)
};
\addplot[paone, line width=4pt, line cap=round, forget plot] coordinates {
(13.2,3.45)(13.2,3.5)(13.3,nan)(39.4,3.65)(39.4,4.0)(39.5,nan)(113.9,3.85)(113.9,4.05)
};
\addplot[only marks, mark=*, mark size=2pt, pnfour, forget plot] coordinates {
(68.8,1.12)(74.2,-0.26)(82.8,-0.2)(94.4,2.85)(94.4,-0.15)(93.7,-0.57)(93.7,-1.85)
};
\addplot[only marks, mark=*, mark size=2pt, paone, forget plot] coordinates {(101.0,3.0)};
% equilibrium radon band
\addplot[black, line width=1pt, dash pattern=on 5pt off 2.5pt, forget plot] table[x=d, y expr=(\thisrow{rn}-13000)/500-4] {\eqbox};
\addplot[black, line width=1pt, dash pattern=on 9pt off 3.5pt, forget plot] table[x=d, y expr=(\thisrow{rn}-13000)/500-4] {\eqmid};
% 222Rn in the wells (right scale)
\addplot[black, line width=0.6pt, mark=square*, mark size=2.6pt, mark options={fill=rnpink, draw=black, line width=0.8pt, solid},
  legend image code/.code={\draw[black, line width=0.6pt] (0pt,0pt) -- (3pt,0pt); \draw[black, line width=0.6pt, fill=rnpink] (1.5pt,-1.9pt) rectangle (5.3pt,1.9pt);},
  error bars/.cd, y dir=both, y explicit, error bar style={gray!60, line width=0.4pt}, error mark options={gray!60, mark size=1.1pt, rotate=90}]
  table[x=d, y expr=(\thisrow{rn}-13000)/500-4, y error expr=\thisrow{e}/500] {\rnpaone};
\addlegendentry{\makebox[62pt][l]{PA1 222Rn}}
\addplot[black, line width=0.6pt, mark=square*, mark size=2.6pt, mark options={fill=rnred, draw=black, line width=0.8pt, solid},
  legend image code/.code={\draw[black, line width=0.6pt] (0pt,0pt) -- (3pt,0pt); \draw[black, line width=0.6pt, fill=rnred] (1.5pt,-1.9pt) rectangle (5.3pt,1.9pt);},
  error bars/.cd, y dir=both, y explicit, error bar style={gray!60, line width=0.4pt}, error mark options={gray!60, mark size=1.1pt, rotate=90}]
  table[x=d, y expr=(\thisrow{rn}-13000)/500-4, y error expr=\thisrow{e}/500] {\rnpnfour};
\addlegendentry{\makebox[62pt][l]{PN4 222Rn}}
\addlegendimage{legend image code/.code={\draw[black, line width=0.9pt] (0pt,0pt) -- (7pt,0pt);}}
\addlegendentry{Radon a l\textquotesingle Equilibre}
\end{axis}

% right-hand scale of the middle panel
\begin{axis}[scale only axis, anchor=south west, at={(40pt,91pt)}, width=643pt, height=228.5pt,
  xmin=0, xmax=122, ymin=13000, ymax=20000,
  hide x axis, axis y line*=right, axis line style={draw=none},
  ytick={13000,14000,...,20000}, yticklabels={13000,14000,15000,16000,17000,18000,19000,20000},
  scaled y ticks=false, tick align=outside, major tick length=2.5pt, ytick style={gray!50, line width=0.6pt},
  font=\fontsize{7.8}{9}\selectfont,
  ylabel={\textbf{\textsuperscript{222}Rn(Bq/m\textsuperscript{3})}},
  ylabel style={at={(axis description cs:1.0498,0.5)}, anchor=center, font=\fontsize{8.5}{10}\selectfont},
]
\addplot[draw=none, forget plot] coordinates {(0,13000)};
\end{axis}

% ---------------- bottom panel: Rhone radon
\begin{axis}[panel, at={(34pt,13pt)}, width=647.5pt, height=37.5pt,
  ymin=0, ymax=500, ytick={0,250,500}, yticklabels={0,250,500}, yticklabel pos=right,
  ylabel={\textbf{\textsuperscript{222}Rn(Bq/m\textsuperscript{3})}},
  ylabel style={at={(axis description cs:1.0456,0.28)}, anchor=center, font=\fontsize{8.5}{10}\selectfont},
  legend style={draw=none, fill=none, inner sep=0pt, at={(axis description cs:0.007,1.253)}, anchor=north west},
]
\addplot[black, line width=0.9pt, mark=square*, mark size=2.6pt, mark options={fill=rhone, draw=black, line width=0.8pt},
  legend image code/.code={\draw[black, line width=0.6pt] (0pt,0pt) -- (3pt,0pt); \draw[black, line width=0.6pt, fill=rhone] (1.5pt,-1.9pt) rectangle (5.3pt,1.9pt);}] coordinates {
(59.4,293)(61.7,293)(63.5,93)(64.6,393)(65.6,193)(67.6,420)(70.7,293)(72.6,427)(76.7,387)(83.8,180)
};
\addlegendentry{Rhône 222Rn}
\end{axis}

% panel frames
\draw[black!85, line width=0.8pt] (4pt,0pt) -- (4pt,488.5pt) -- (724.5pt,488.5pt);
\draw[black!85, line width=0.8pt] (4pt,346pt) -- (724.5pt,346pt);
\draw[black!85, line width=0.8pt] (4pt,61pt) -- (724.5pt,61pt);
\end{tikzpicture}
\end{document}
